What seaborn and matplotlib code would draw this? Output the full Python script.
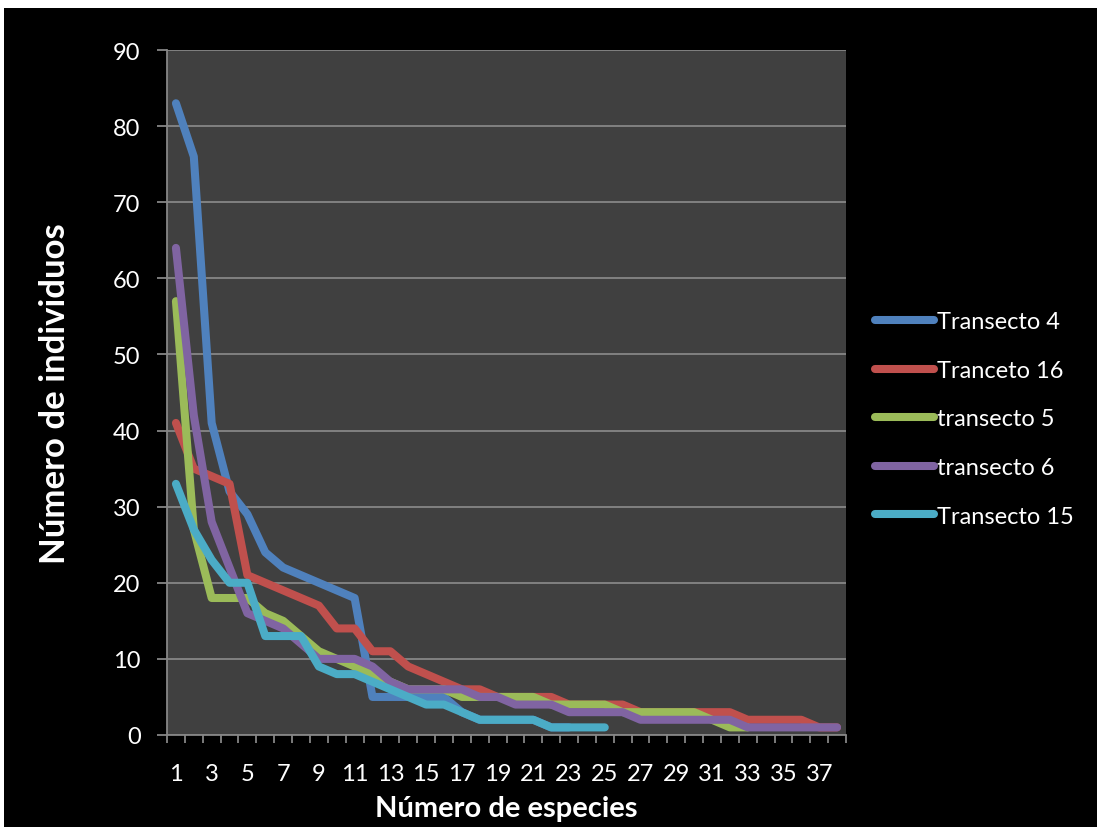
import matplotlib
matplotlib.use("Agg")
import matplotlib.pyplot as plt
import matplotlib.patches as mpatches
import seaborn as sns
import pandas as pd
import numpy as np

# ---- data ----
series_names = ["Transecto 4", "Tranceto 16", "transecto 5", "transecto 6", "Transecto 15"]
transecto_4 = [83, 76, 41, 32, 29, 24, 22, 21, 20, 19, 18, 5, 5, 5, 5, 5, 3, 2, 2, 2, 2, 1, 1]
tranceto_16 = [41, 35, 34, 33, 21, 20, 19, 18, 17, 14, 14, 11, 11, 9, 8, 7, 6, 6, 5, 5,
               5, 5, 4, 4, 4, 4, 3, 3, 3, 3, 3, 3, 2, 2, 2, 2, 1, 1]
transecto_5 = [57, 27, 18, 18, 18, 16, 15, 13, 11, 10, 9, 8, 7, 6, 6, 6, 5, 5, 5, 5,
               5, 4, 4, 4, 4, 3, 3, 3, 3, 3, 2, 1, 1]
transecto_6 = [64, 42, 28, 22, 16, 15, 14, 12, 10, 10, 10, 9, 7, 6, 6, 6, 6, 5, 5, 4,
               4, 4, 3, 3, 3, 3, 2, 2, 2, 2, 2, 2, 1, 1, 1, 1, 1, 1]
transecto_15 = [33, 27, 23, 20, 20, 13, 13, 13, 9, 8, 8, 7, 6, 5, 4, 4, 3, 2, 2, 2,
                2, 1, 1, 1, 1]
colors = ["#4F81BD", "#C0504D", "#9BBB59", "#8064A2", "#4BACC6"]
y_ticks = [0, 10, 20, 30, 40, 50, 60, 70, 80, 90]
x_tick_labels = list(range(1, 39, 2))

all_series = [transecto_4, tranceto_16, transecto_5, transecto_6, transecto_15]
frames = []
for name, vals in zip(series_names, all_series):
    frames.append(pd.DataFrame({"especie": np.arange(1, len(vals) + 1),
                                "individuos": vals, "serie": name}))
df = pd.concat(frames, ignore_index=True)

# ---- style ----
sns.set_theme(style="dark")
plt.rcParams["font.family"] = ["Lato", "DejaVu Sans"]

W, H = 1101, 828
fig = plt.figure(figsize=(W / 100, H / 100), dpi=100, facecolor="white")
fig.patches.append(mpatches.Rectangle((4 / W, 0), (W - 8) / W, 1 - 9 / H,
                                      transform=fig.transFigure, facecolor="black",
                                      edgecolor="none", zorder=-10))

L, R, T, B = 167, 846, 51, 736
ax = fig.add_axes([L / W, 1 - B / H, (R - L) / W, (B - T) / H])
ax.set_facecolor("#404040")

LW = 5.8
sns.lineplot(data=df, x="especie", y="individuos", hue="serie", hue_order=series_names,
             palette=colors, linewidth=LW, ax=ax, legend=True, sort=False)
for ln in ax.get_lines():
    ln.set_solid_capstyle("round")
    ln.set_solid_joinstyle("round")

ax.set_xlim(0.5, 38.5)
ax.set_ylim(0, 90)
ax.set_yticks(y_ticks)
ax.set_xticks(x_tick_labels)
ax.set_xticks(np.arange(0.5, 39.0, 1.0), minor=True)
ax.tick_params(axis="x", which="major", length=0, pad=20, labelsize=17, colors="white")
ax.tick_params(axis="x", which="minor", length=6, width=1.3, color="#868686", bottom=True)
ax.tick_params(axis="y", which="major", length=7, width=1.3, color="#868686",
               labelsize=17, labelcolor="white", pad=12, left=True)
ax.grid(axis="y", color="#868686", linewidth=1.3)
ax.grid(axis="x", visible=False)
ax.set_axisbelow(True)
for s in ["top", "right"]:
    ax.spines[s].set_visible(False)
for s in ["left", "bottom"]:
    ax.spines[s].set_visible(True)
    ax.spines[s].set_color("#868686")
    ax.spines[s].set_linewidth(1.3)

ax.set_xlabel("Número de especies", fontsize=21, fontweight="bold", color="white")
ax.xaxis.set_label_coords(((373 + 640) / 2 - L) / (R - L), -(809 - B) / (B - T))
ax.xaxis.label.set_va("center")
ax.set_ylabel("Número de individuos", fontsize=25, fontweight="bold", color="white")
ax.yaxis.set_label_coords(-(L - 55) / (R - L), (B - 394) / (B - T))
ax.yaxis.label.set_va("center")

handles, labels = ax.get_legend_handles_labels()
ax.get_legend().remove()
leg = fig.legend(handles, labels, loc="center left",
                 bbox_to_anchor=(866 / W, 1 - 420 / H), frameon=False,
                 fontsize=17, labelcolor="white", handlelength=2.5, handletextpad=0.12,
                 labelspacing=1.17, borderaxespad=0)
for h in leg.legend_handles:
    h.set_linewidth(LW)
    h.set_solid_capstyle("round")

fig.savefig("out.png", dpi=100, facecolor=fig.get_facecolor())
